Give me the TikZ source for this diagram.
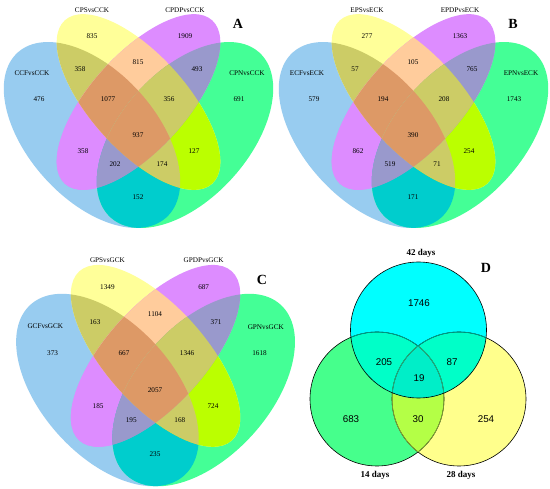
\documentclass[tikz,border=0pt]{standalone}
\usepackage{fontspec}
\setmainfont{Liberation Serif}
\newfontfamily\sansf{Liberation Sans}
\definecolor{cB}{RGB}{152,204,240}
\definecolor{cY}{RGB}{255,255,153}
\definecolor{cP}{RGB}{221,140,255}
\definecolor{cG}{RGB}{68,255,150}
\definecolor{cBY}{RGB}{204,204,102}
\definecolor{cBP}{RGB}{221,140,255}
\definecolor{cBG}{RGB}{0,205,205}
\definecolor{cYP}{RGB}{255,204,156}
\definecolor{cYG}{RGB}{187,255,0}
\definecolor{cPG}{RGB}{153,153,204}
\definecolor{cBYP}{RGB}{221,153,102}
\definecolor{cBYG}{RGB}{204,204,102}
\definecolor{cBPG}{RGB}{153,153,204}
\definecolor{cYPG}{RGB}{204,204,102}
\definecolor{cAll}{RGB}{221,153,102}
\definecolor{cT}{RGB}{0,255,255}
\definecolor{cL}{RGB}{70,255,140}
\definecolor{cR}{RGB}{255,255,140}
\definecolor{cTL}{RGB}{0,255,200}
\definecolor{cTR}{RGB}{0,255,200}
\definecolor{cTLR}{RGB}{0,238,200}
\definecolor{cLR}{RGB}{180,255,70}
\definecolor{lnTeal}{RGB}{0,175,150}
\definecolor{lnOlive}{RGB}{140,175,60}
\tikzset{
  num/.style={font=\fontsize{7.2}{8}\selectfont, inner sep=0pt},
  setlab/.style={font=\fontsize{7.2}{8}\selectfont, inner sep=0pt},
  panelletter/.style={font=\fontsize{14}{16}\selectfont\bfseries, inner sep=0pt},
  dnum/.style={font=\sansf\fontsize{9.8}{11}\selectfont, inner sep=0pt},
  dlab/.style={font=\fontsize{9}{10}\selectfont\bfseries, inner sep=0pt},
  circline/.style={line width=0.6pt},
}
\newcommand\doB[1]{#1[rotate around={-48:(92,135)}] (92,135) ellipse [x radius=111,y radius=64];}
\newcommand\doG[1]{#1[rotate around={48:(185,135)}] (185,135) ellipse [x radius=111,y radius=64];}
\newcommand\doY[1]{#1[rotate around={-48:(138.5,102)}] (138.5,102) ellipse [x radius=110,y radius=48];}
\newcommand\doP[1]{#1[rotate around={48:(138.5,102)}] (138.5,102) ellipse [x radius=110,y radius=48];}
\newcommand\fourvenn{%
  \doB{\fill[cB]}\doG{\fill[cG]}\doY{\fill[cY]}\doP{\fill[cP]}%
  \begin{scope}\doB{\clip}\doY{\fill[cBY]}\end{scope}%
  \begin{scope}\doB{\clip}\doP{\fill[cBP]}\end{scope}%
  \begin{scope}\doB{\clip}\doG{\fill[cBG]}\end{scope}%
  \begin{scope}\doY{\clip}\doP{\fill[cYP]}\end{scope}%
  \begin{scope}\doY{\clip}\doG{\fill[cYG]}\end{scope}%
  \begin{scope}\doP{\clip}\doG{\fill[cPG]}\end{scope}%
  \begin{scope}\doB{\clip}\doY{\clip}\doP{\fill[cBYP]}\end{scope}%
  \begin{scope}\doB{\clip}\doY{\clip}\doG{\fill[cBYG]}\end{scope}%
  \begin{scope}\doB{\clip}\doP{\clip}\doG{\fill[cBPG]}\end{scope}%
  \begin{scope}\doY{\clip}\doP{\clip}\doG{\fill[cYPG]}\end{scope}%
  \begin{scope}\doB{\clip}\doY{\clip}\doP{\clip}\doG{\fill[cAll]}\end{scope}%
}
\begin{document}
\begin{tikzpicture}[x=1pt,y=-1pt]
\useasboundingbox (0,0) rectangle (550,489);
\fill[white] (0,0) rectangle (550,489);

% ---------- Panel A ----------
\begin{scope}
  \fourvenn
  \node[setlab] (A-nY) at (92,10) {CPSvsCCK};
  \node[setlab] (A-nP) at (185,10) {CPDPvsCCK};
  \node[setlab] (A-nB) at (32,73) {CCFvsCCK};
  \node[setlab] (A-nG) at (247,73) {CPNvsCCK};
  \foreach \n/\x/\y/\v in {Y/92/36/835, P/185/36/1909, BY/80/69/358, YP/138/62/815,
      PG/197/69/493, B/39/99/476, BYP/108/99/1077, YPG/169/99/356, G/239/99/691,
      All/138/135/937, BP/83/151/358, YG/194/151/127, BPG/115/164/202,
      BYG/162/164/174, BG/138/197/152}
    \node[num] (A-\n) at (\x,\y) {\v};
\end{scope}
\node[panelletter] (A-L) at (238,24) {A};

% ---------- Panel B ----------
\begin{scope}[shift={(275,0)}]
  \fourvenn
  \node[setlab] (B-nY) at (92,10) {EPSvsECK};
  \node[setlab] (B-nP) at (185,10) {EPDPvsECK};
  \node[setlab] (B-nB) at (32,73) {ECFvsECK};
  \node[setlab] (B-nG) at (246,73) {EPNvsECK};
  \foreach \n/\x/\y/\v in {Y/92/36/277, P/185/36/1363, BY/80/69/57, YP/138/62/105,
      PG/197/69/765, B/39/99/579, BYP/108/99/194, YPG/169/99/208, G/239/99/1743,
      All/138/135/390, BP/83/151/862, YG/194/151/254, BPG/115/164/519,
      BYG/162/164/71, BG/138/197/171}
    \node[num] (B-\n) at (\x,\y) {\v};
\end{scope}
\node[panelletter] (B-L) at (513,24) {B};

% ---------- Panel C ----------
\begin{scope}[shift={(12.2,250.3)}, scale=1.035]
  \fourvenn
  \node[setlab] (C-nY) at (92,10) {GPSvsGCK};
  \node[setlab] (C-nP) at (185,10) {GPDPvsGCK};
  \node[setlab] (C-nB) at (32,73) {GCFvsGCK};
  \node[setlab] (C-nG) at (245,74) {GPNvsGCK};
  \foreach \n/\x/\y/\v in {Y/92/36/1349, P/185/36/687, BY/80/69/163, YP/138/62/1104,
      PG/197/69/371, B/39/99/373, BYP/108/99/667, YPG/169/99/1346, G/239/99/1618,
      All/138/135/2057, BP/83/151/185, YG/194/151/724, BPG/115/164/195,
      BYG/162/164/168, BG/138/197/235}
    \node[num] (C-\n) at (\x,\y) {\v};
\end{scope}
\node[panelletter] (C-L) at (262,280) {C};

% ---------- Panel D ----------
\fill[cL] (377,399) circle [radius=67];
\fill[cR] (459,399) circle [radius=67];
\begin{scope}
  \clip (377,399) circle [radius=67];
  \fill[cLR] (459,399) circle [radius=67];
\end{scope}
\fill[cT] (418.5,330) circle [radius=68];
\begin{scope}
  \clip (418.5,330) circle [radius=68];
  \fill[cTL] (377,399) circle [radius=67];
  \fill[cTR] (459,399) circle [radius=67];
  \clip (377,399) circle [radius=67];
  \fill[cTLR] (459,399) circle [radius=67];
\end{scope}
\draw[circline] (377,399) circle [radius=67];
\draw[circline] (459,399) circle [radius=67];
\begin{scope}
  \clip (459,399) circle [radius=67];
  \draw[circline, lnOlive] (377,399) circle [radius=67];
\end{scope}
\begin{scope}
  \clip (377,399) circle [radius=67];
  \draw[circline, lnOlive] (459,399) circle [radius=67];
\end{scope}
\begin{scope}
  \clip (418.5,330) circle [radius=68];
  \draw[circline, lnTeal] (377,399) circle [radius=67];
  \draw[circline, lnTeal] (459,399) circle [radius=67];
\end{scope}
\draw[circline] (418.5,330) circle [radius=68];

\node[dlab] (D-t) at (421,253) {42 days};
\node[dlab] (D-l) at (375,475) {14 days};
\node[dlab] (D-r) at (461,475) {28 days};
\node[panelletter] (D-L) at (486,268) {D};
\node[dnum] (D-T) at (419,303) {1746};
\node[dnum] (D-TL) at (384,362) {205};
\node[dnum] (D-TR) at (452,362) {87};
\node[dnum] (D-TLR) at (419,378) {19};
\node[dnum] (D-Lo) at (351,419) {683};
\node[dnum] (D-LR) at (418,419) {30};
\node[dnum] (D-Ro) at (486,419) {254};
\end{tikzpicture}
\end{document}
